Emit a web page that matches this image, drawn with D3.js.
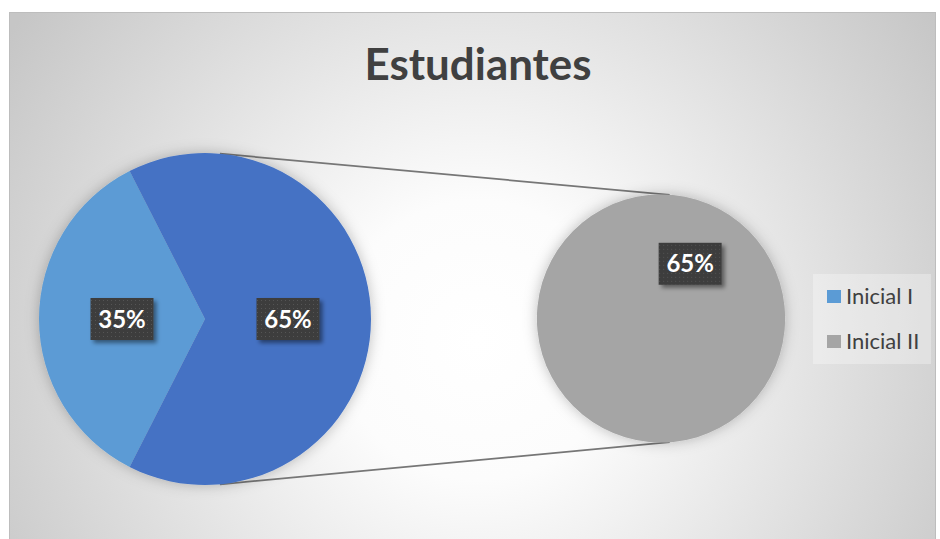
<!DOCTYPE html>
<html>
<head>
<meta charset="utf-8">
<script src="https://cdn.jsdelivr.net/npm/d3@7"></script>
<style>
	html, body { margin: 0; padding: 0; background: #fff; }
	svg { display: block; }
</style>
</head>
<body>
<div id="chart"></div>
<script>
'use strict';
(function(){

	// data
	var chartTitle = 'Estudiantes';
	var categories = ['Inicial I', 'Inicial II'];
	var values = [35, 65];
	var splitAt = 1; // categories from here on go to the second pie

	var mainValues = values.slice(0, splitAt).concat([d3.sum(values.slice(splitAt))]);
	var secondValues = values.slice(splitAt);
	var total = d3.sum(values);
	var pct = d3.format('.0%');

	// svg
	var svgWidth = 940;
	var svgHeight = 539;

	var svg = d3.select('#chart')
		.append('svg')
		.attr('width', svgWidth)
		.attr('height', svgHeight);

	var defs = svg.append('defs');

	var bg = defs.append('radialGradient')
		.attr('id', 'bg')
		.attr('gradientUnits', 'userSpaceOnUse')
		.attr('cx', 478).attr('cy', 340).attr('r', 560);
	bg.append('stop').attr('offset', '0').attr('stop-color', '#ffffff');
	bg.append('stop').attr('offset', '0.25').attr('stop-color', '#fcfcfc');
	bg.append('stop').attr('offset', '1').attr('stop-color', '#c6c6c6');

	var pieShadow = defs.append('filter').attr('id', 'pieShadow')
		.attr('x', '-20%').attr('y', '-20%').attr('width', '140%').attr('height', '140%');
	pieShadow.append('feDropShadow')
		.attr('dx', 0).attr('dy', 0).attr('stdDeviation', 7)
		.attr('flood-color', '#000').attr('flood-opacity', 0.25);

	var boxShadow = defs.append('filter').attr('id', 'boxShadow')
		.attr('x', '-20%').attr('y', '-20%').attr('width', '150%').attr('height', '160%');
	boxShadow.append('feDropShadow')
		.attr('dx', 3).attr('dy', 3).attr('stdDeviation', 2)
		.attr('flood-color', '#000').attr('flood-opacity', 0.45);

	var dots = defs.append('pattern').attr('id', 'dots')
		.attr('patternUnits', 'userSpaceOnUse')
		.attr('width', 4).attr('height', 4);
	dots.append('rect').attr('width', 4).attr('height', 4).attr('fill', '#3d3d3d');
	dots.append('rect').attr('x', 1).attr('y', 1).attr('width', 1).attr('height', 1)
		.attr('fill', '#555');

	// chart area
	svg.append('rect')
		.attr('x', 9.5).attr('y', 12.5)
		.attr('width', 926).attr('height', 540)
		.attr('fill', 'url(#bg)')
		.attr('stroke', '#bdbdbd')
		.attr('stroke-width', 1);

	svg.append('text')
		.attr('x', 478).attr('y', 80)
		.attr('text-anchor', 'middle')
		.attr('font-family', 'Lato, sans-serif')
		.attr('font-weight', 700)
		.attr('font-size', 44)
		.attr('textLength', 227)
		.attr('lengthAdjust', 'spacingAndGlyphs')
		.attr('fill', '#404040')
		.text(chartTitle);

	var color = d3.scaleOrdinal()
		.domain(categories)
		.range(['#5B9BD5', '#A5A5A5']);
	var otherColor = '#4472C4';

	// first pie
	var main = { cx: 205, cy: 319, r: 166 };
	var mainStart = -Math.PI / 2 - Math.PI * mainValues[0] / total;
	var mainPie = d3.pie().sort(null)
		.startAngle(mainStart).endAngle(mainStart + 2 * Math.PI);
	var mainArc = d3.arc().innerRadius(0).outerRadius(main.r);

	// second pie
	var second = { cx: 661, cy: 318.5, r: 124 };
	var secondStart = -2.652;
	var secondPie = d3.pie().sort(null)
		.startAngle(secondStart).endAngle(secondStart + 2 * Math.PI);
	var secondArc = d3.arc().innerRadius(0).outerRadius(second.r);

	// connector lines
	var links = [
		{ a: 0.09, b: 0.07 },
		{ a: Math.PI - 0.09, b: Math.PI - 0.07 }
	];
	svg.selectAll('line.link')
		.data(links)
		.enter()
		.append('line')
		.attr('class', 'link')
		.attr('x1', function (d) { return main.cx + d3.pointRadial(d.a, main.r)[0]; })
		.attr('y1', function (d) { return main.cy + d3.pointRadial(d.a, main.r)[1]; })
		.attr('x2', function (d) { return second.cx + d3.pointRadial(d.b, second.r)[0]; })
		.attr('y2', function (d) { return second.cy + d3.pointRadial(d.b, second.r)[1]; })
		.attr('stroke', '#767676')
		.attr('stroke-width', 1.75);

	var gMain = svg.append('g')
		.attr('transform', 'translate(' + main.cx + ',' + main.cy + ')');
	gMain.append('g')
		.attr('filter', 'url(#pieShadow)')
		.selectAll('path')
		.data(mainPie(mainValues))
		.enter()
		.append('path')
		.attr('d', mainArc)
		.attr('fill', function (d, i) {
			return i < splitAt ? color(categories[i]) : otherColor;
		});

	var gSecond = svg.append('g')
		.attr('transform', 'translate(' + second.cx + ',' + second.cy + ')');
	gSecond.append('g')
		.attr('filter', 'url(#pieShadow)')
		.selectAll('path')
		.data(secondPie(secondValues))
		.enter()
		.append('path')
		.attr('d', secondArc)
		.attr('fill', function (d, i) { return color(categories[splitAt + i]); });

	// data labels
	function addLabels(g, arcs, arc) {
		var lab = g.selectAll('g.label')
			.data(arcs)
			.enter()
			.append('g')
			.attr('class', 'label')
			.attr('transform', function (d) {
				var c = arc.centroid(d);
				return 'translate(' + c[0] + ',' + c[1] + ')';
			});
		lab.append('rect')
			.attr('x', -31.5).attr('y', -21)
			.attr('width', 63).attr('height', 42)
			.attr('fill', 'url(#dots)')
			.attr('filter', 'url(#boxShadow)');
		lab.append('text')
			.attr('y', 8.5)
			.attr('text-anchor', 'middle')
			.attr('font-family', 'Lato, sans-serif')
			.attr('font-weight', 700)
			.attr('font-size', 24)
			.attr('fill', '#fff')
			.text(function (d) { return pct(d.value / total); });
	}
	addLabels(gMain, mainPie(mainValues), mainArc);
	addLabels(gSecond, secondPie(secondValues), secondArc);

	// legend
	var legend = svg.append('g');
	legend.append('rect')
		.attr('x', 813).attr('y', 274)
		.attr('width', 118).attr('height', 90)
		.attr('fill', '#ffffff')
		.attr('fill-opacity', 0.3);

	var item = legend.selectAll('g.item')
		.data(categories)
		.enter()
		.append('g')
		.attr('class', 'item')
		.attr('transform', function (d, i) {
			return 'translate(827,' + (290 + i * 45) + ')';
		});
	item.append('rect')
		.attr('width', 14).attr('height', 13)
		.attr('fill', function (d) { return color(d); });
	item.append('text')
		.attr('x', 19).attr('y', 13.5)
		.attr('font-family', 'Lato, sans-serif')
		.attr('font-size', 22)
		.attr('fill', '#404040')
		.text(function (d) { return d; });

}());
</script>
</body>
</html>
